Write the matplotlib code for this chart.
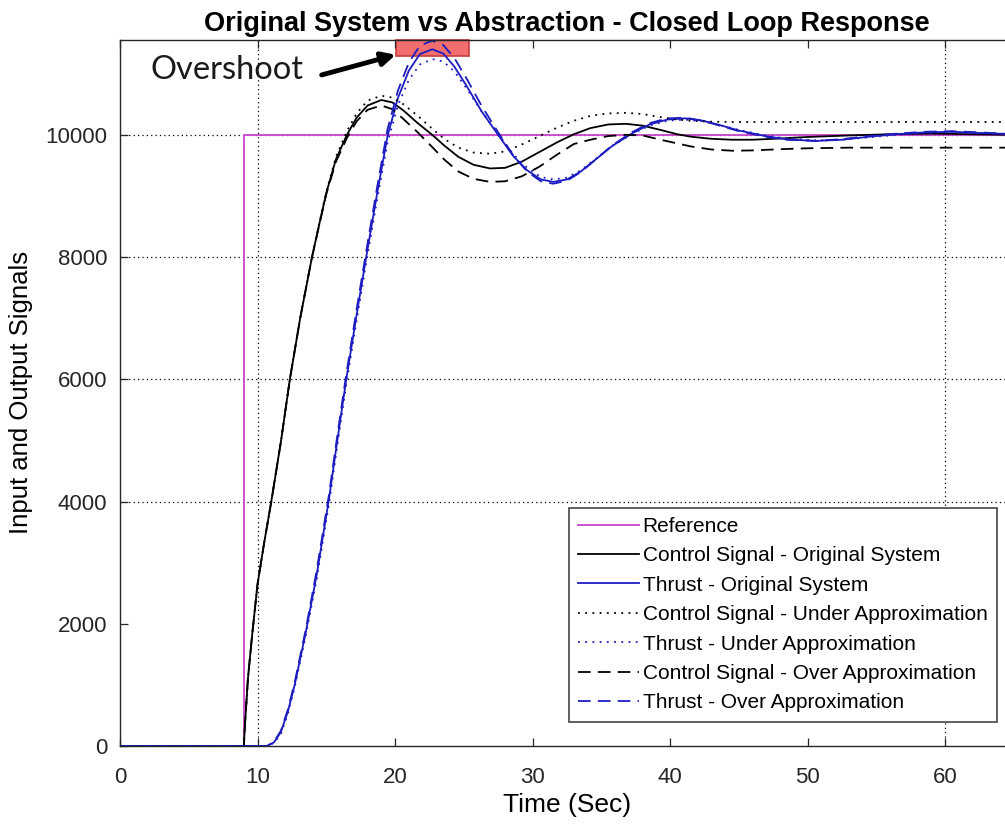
import matplotlib
matplotlib.use('Agg')
import matplotlib.pyplot as plt
from matplotlib.patches import Rectangle

plt.rcParams['font.family'] = ['Liberation Sans', 'DejaVu Sans']

# reference step
ref_t = [0, 9.05, 9.05, 70]
ref_v = [0, 0, 10000, 10000]

# control signal time base
cs_t = [0, 9.0, 9.1, 9.3, 9.6, 10.0, 10.5, 11.0, 11.7, 12.35, 13.1, 13.96, 14.5, 15.0, 15.7,
        16.5, 17.2, 18.0, 19.0, 19.8, 20.6, 21.6, 22.7, 23.6, 24.6, 25.7, 26.9, 28.0, 29.2,
        30.5, 31.8, 33.0, 34.2, 35.5, 36.8, 38.0, 39.3, 40.5, 41.5, 43.0, 44.5, 46.0, 48.0,
        50.0, 53.0, 56.0, 59.0, 62.0, 65.0, 70.0]
cs_orig = [0, 0, 400, 1100, 1800, 2650, 3350, 4000, 4980, 6000, 7000, 8000, 8550, 9050, 9600,
           10000, 10280, 10480, 10570, 10530, 10400, 10200, 10000, 9820, 9640, 9510, 9450, 9460, 9560,
           9720, 9880, 10010, 10110, 10170, 10180, 10150, 10080, 10010, 9970, 9935, 9920, 9920, 9940,
           9965, 9990, 10010, 10020, 10010, 10000, 10000]
cs_under = [0, 0, 400, 1100, 1800, 2650, 3350, 4000, 4980, 6000, 7000, 8000, 8560, 9070, 9640,
            10060, 10350, 10560, 10640, 10610, 10500, 10320, 10100, 9930, 9790, 9710, 9690, 9730, 9840,
            9980, 10120, 10230, 10310, 10350, 10360, 10340, 10290, 10250, 10230, 10215, 10210, 10210, 10210,
            10210, 10210, 10210, 10210, 10210, 10210, 10210]
cs_over = [0, 0, 400, 1100, 1800, 2650, 3350, 4000, 4980, 6000, 7000, 8000, 8540, 9030, 9560,
           9950, 10220, 10410, 10480, 10420, 10260, 10050, 9800, 9590, 9400, 9280, 9230, 9240, 9320,
           9480, 9680, 9850, 9920, 9980, 10000, 9990, 9920, 9860, 9810, 9760, 9740, 9745, 9765,
           9780, 9790, 9790, 9790, 9790, 9790, 9790]

# thrust time base
th_t = [0, 10.7, 11.2, 11.7, 12.2, 12.7, 13.5, 14.3, 15.2, 15.8, 16.45, 17.2, 17.9, 18.7, 19.45,
        20.2, 21.0, 21.8, 22.7, 23.5, 24.3, 25.2, 26.3, 27.55, 28.6, 29.6, 30.6, 31.5, 32.5, 33.5,
        34.6, 35.8, 37.2, 38.5, 39.8, 41.1, 42.4, 43.6, 45.0, 46.9, 48.5, 50.6, 52.5, 54.5, 56.5,
        58.5, 60.5, 62.5, 65, 70]
th_orig = [0, 0, 60, 230, 560, 1000, 1850, 2800, 4050, 5000, 6000, 7050, 8000, 9050, 9980,
           10600, 11050, 11320, 11400, 11330, 11120, 10800, 10380, 9980, 9650, 9420, 9270, 9230, 9270, 9400,
           9600, 9820, 10020, 10170, 10250, 10270, 10230, 10160, 10070, 9980, 9925, 9900, 9920, 9970, 10010,
           10040, 10050, 10030, 10010, 10000]
th_over = [0, 0, 70, 250, 590, 1040, 1900, 2870, 4120, 5080, 6080, 7140, 8090, 9150, 10090,
           10720, 11180, 11460, 11540, 11470, 11260, 10920, 10470, 10020, 9660, 9400, 9240, 9200, 9250, 9390,
           9600, 9830, 10040, 10190, 10270, 10280, 10230, 10150, 10060, 9970, 9920, 9900, 9930, 9980, 10020,
           10050, 10060, 10040, 10010, 10000]
th_under = [0, 0, 50, 200, 520, 960, 1800, 2730, 3970, 4920, 5920, 6960, 7910, 8950, 9870,
            10480, 10900, 11150, 11240, 11200, 11040, 10760, 10380, 10000, 9680, 9460, 9310, 9270, 9300, 9420,
            9610, 9820, 10010, 10150, 10230, 10250, 10220, 10160, 10080, 9990, 9940, 9910, 9920, 9960, 10000,
            10030, 10040, 10030, 10010, 10000]

x_ticks = [0, 10, 20, 30, 40, 50, 60]
y_ticks = [0, 2000, 4000, 6000, 8000, 10000]
grid_x = [10, 60]
grid_y = [4000, 6000, 8000, 10000]

# overshoot box (time span, value span)
box_t = (20.1, 25.4)
box_v = (11290, 11555)

fig = plt.figure(figsize=(10.05, 8.24), dpi=100)
ax = fig.add_axes([0.1194, 0.0947, 0.8896, 0.857])

blue = '#1c1cc0'
mag = '#cc44cc'
for gx in grid_x:
    ax.axvline(gx, color='k', ls=(0, (1, 2.5)), lw=0.9, zorder=1)
for gy in grid_y:
    ax.axhline(gy, color='k', ls=(0, (1, 2.5)), lw=0.9, zorder=1)

ax.add_patch(Rectangle((box_t[0], box_v[0]), box_t[1] - box_t[0], box_v[1] - box_v[0],
                       facecolor='#f26d6d', edgecolor='#c83c3c', lw=1.2, zorder=1.5, clip_on=False))

ax.plot(ref_t, ref_v, color=mag, lw=1.3, label='Reference')
ax.plot(cs_t, cs_orig, color='k', lw=1.3, label='Control Signal - Original System')
ax.plot(th_t, th_orig, color=blue, lw=1.3, label='Thrust - Original System')
ax.plot(cs_t, cs_under, color='k', lw=1.3, ls=(0, (1, 3)), label='Control Signal - Under Approximation')
ax.plot(th_t, th_under, color=blue, lw=1.3, ls=(0, (1, 3)), label='Thrust - Under Approximation')
ax.plot(cs_t, cs_over, color='k', lw=1.3, ls=(0, (7, 4)), label='Control Signal - Over Approximation')
ax.plot(th_t, th_over, color=blue, lw=1.3, ls=(0, (7, 4)), label='Thrust - Over Approximation')

ax.set_xlim(0, 65)
ax.set_ylim(0, 11555)
ax.set_xticks(x_ticks)
ax.set_yticks(y_ticks)
ax.tick_params(direction='in', length=6, width=0.9, top=True, right=True,
               labelsize=16, colors='#262626')
ax.tick_params(axis='x', pad=15)
ax.tick_params(axis='y', pad=9)
for s in ax.spines.values():
    s.set_color('#262626')
    s.set_linewidth(1.0)

ax.set_title('Original System vs Abstraction - Closed Loop Response',
             fontsize=19.5, fontweight='bold', pad=6)
ax.set_xlabel('Time (Sec)', fontsize=19, labelpad=4)
ax.set_ylabel('Input and Output Signals', fontsize=18.5, labelpad=9)

ax.text(2.2, 11060, 'Overshoot', fontsize=23.5, family=['Lato', 'DejaVu Sans'],
        va='center', ha='left', color='#1a1a1a')
ax.annotate('', xy=(20.05, 11310), xytext=(14.66, 10980),
            arrowprops=dict(arrowstyle='-|>,head_length=0.8,head_width=0.4', color='k', lw=3.5,
                            shrinkA=0, shrinkB=0))

leg = ax.legend(loc='lower right', bbox_to_anchor=(0.992, 0.124), bbox_transform=fig.transFigure,
                fontsize=15, frameon=True, fancybox=False, framealpha=1, edgecolor='#444444',
                handlelength=2.9, handletextpad=0.2, labelspacing=0.5, borderpad=0.45,
                borderaxespad=0)
leg.get_frame().set_linewidth(1.2)

fig.savefig('out.png', dpi=100)
